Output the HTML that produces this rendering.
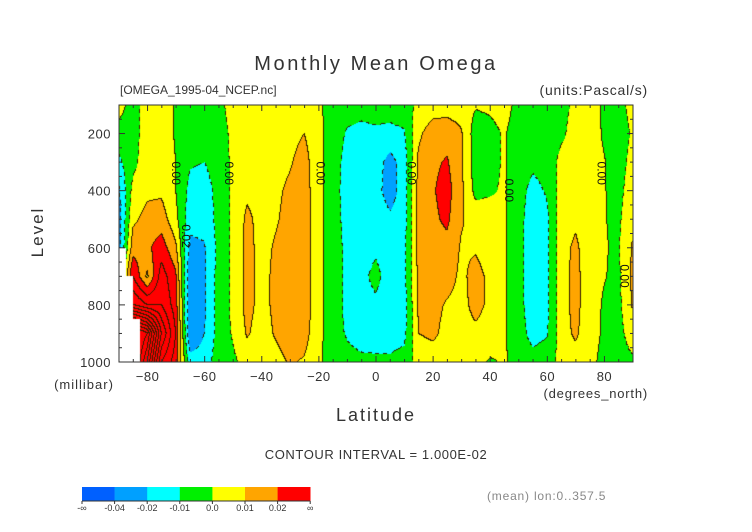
<!DOCTYPE html>
<html><head><meta charset="utf-8">
<style>
body{margin:0;background:#fff;}
#root{position:relative;width:752px;height:532px;overflow:hidden;background:#fff;font-family:"Liberation Sans",sans-serif;}
canvas{position:absolute;left:119px;top:105px;}
svg{position:absolute;left:0;top:0;}
</style></head>
<body>
<div id="root">
<canvas id="cv" width="514" height="257"></canvas>
<svg id="sv" width="752" height="532">
<text x="376" y="70" text-anchor="middle" font-size="20" fill="#333" letter-spacing="2.6">Monthly Mean Omega</text>
<text x="120" y="94" font-size="12" fill="#333">[OMEGA_1995-04_NCEP.nc]</text>
<text x="648" y="95" text-anchor="end" font-size="14" fill="#333" letter-spacing="0.8">(units:Pascal/s)</text>
<text transform="translate(43,232) rotate(-90)" text-anchor="middle" font-size="17" fill="#333" letter-spacing="2">Level</text>
<text x="84" y="389" text-anchor="middle" font-size="13" fill="#333" letter-spacing="1">(millibar)</text>
<text x="376" y="421" text-anchor="middle" font-size="18" fill="#333" letter-spacing="2">Latitude</text>
<text x="648" y="398" text-anchor="end" font-size="13" fill="#333" letter-spacing="0.8">(degrees_north)</text>
<text x="376" y="459" text-anchor="middle" font-size="13" fill="#333" letter-spacing="0.6">CONTOUR INTERVAL = 1.000E-02</text>
<text x="487" y="500" font-size="12" fill="#888" letter-spacing="0.8">(mean) lon:0..357.5</text>
<g id="axes"></g>
<g id="clabels"></g>
<g id="cbar"></g>
</svg>
</div>
<script>
// units: 0.01 Pa/s
const lats = [-90,-85,-80,-75,-70,-65,-60,-55,-50,-45,-40,-35,-30,-25,-20,-15,-10,-5,0,5,10,15,20,25,30,35,40,45,50,55,60,65,70,75,80,85,90];
const levels = [100,200,300,400,500,600,700,800,900,1000];
const omega = [
[0.5,-0.5,-1.2,-2.2,-2.5,-2.5,-2,-2,-2,-2],
[-0.5,-0.5,-0.3,0.3,0.8,1.5,3,5,14,14],
[0.5,0.6,0.6,0.8,1.3,1.8,0.8,4,12,10],
[0.5,0.6,0.6,0.8,1.5,2.5,3.5,4,6,4],
[-0.1,-0.1,0,0,0.3,1.2,2.2,2.5,3,2.5],
[-0.5,-0.7,-0.9,-1.3,-1.6,-2.3,-3,-3,-3,-1.5],
[-0.4,-0.6,-1.0,-1.4,-1.6,-2.1,-2.2,-2.2,-2,-1.5],
[-0.3,-0.4,-0.6,-0.7,-0.7,-0.7,-0.6,-0.6,-0.6,-0.5],
[0.4,0.2,0.2,0.2,0.2,0.2,0.2,0.2,0.1,-0.2],
[0.5,0.5,0.6,0.8,1.2,1.3,1.3,1.3,1.1,0.4],
[0.5,0.5,0.6,0.6,0.7,0.7,0.7,0.7,0.6,0.3],
[0.5,0.5,0.6,0.8,0.9,1.1,1.2,1.2,1.1,0.7],
[0.6,0.7,0.9,1.2,1.3,1.5,1.6,1.6,1.5,1.1],
[0.6,1.0,1.4,1.5,1.5,1.6,1.6,1.6,1.4,0.9],
[0.2,0.3,0.3,0.3,0.3,0.3,0.3,0.3,0.3,0.2],
[-0.5,-0.5,-0.6,-0.6,-0.6,-0.6,-0.6,-0.6,-0.6,-0.5],
[-0.6,-1.1,-1.3,-1.4,-1.3,-1.2,-1.2,-1.2,-1.1,-0.7],
[-0.6,-1.3,-1.6,-1.6,-1.5,-1.4,-1.3,-1.4,-1.4,-0.8],
[-0.5,-1.2,-1.5,-1.6,-1.4,-1.2,-0.7,-1.2,-1.5,-0.8],
[-0.5,-1.3,-2.4,-2.5,-1.8,-1.5,-1.5,-1.5,-1.5,-0.8],
[-0.4,-1.1,-1.5,-1.5,-1.4,-1.3,-1.3,-1.4,-1.3,-0.6],
[0.2,0.8,1.2,1.3,1.3,1.3,1.2,1.1,1.0,0.4],
[0.5,1.5,1.8,1.9,1.8,1.6,1.5,1.3,1.2,0.5],
[0.5,1.6,2.1,2.4,2.2,1.7,1.4,0.9,0.7,0.4],
[0.5,1.1,1.2,1.2,1.1,0.9,0.8,0.7,0.6,0.4],
[0.1,-0.5,-0.5,-0.3,0.6,0.9,1.3,1.3,0.8,0.3],
[0.2,-0.3,-0.3,-0.1,0.4,0.6,0.8,0.8,0.6,-0.1],
[0.4,0.1,0.1,0.1,0.1,0.1,0.1,0.1,0.1,0.1],
[-0.3,-0.5,-0.5,-0.6,-0.6,-0.6,-0.6,-0.6,-0.5,-0.3],
[-0.5,-0.7,-0.8,-1.3,-1.6,-1.6,-1.6,-1.6,-1.4,-0.6],
[-0.5,-0.5,-0.6,-0.9,-1.2,-1.2,-1.2,-1.2,-1.1,-0.4],
[-0.3,-0.2,0.3,0.4,0.5,0.6,0.6,0.6,0.5,0.3],
[0.2,0.4,0.5,0.6,0.8,1.2,1.3,1.3,1.2,0.5],
[0.3,0.4,0.4,0.4,0.4,0.4,0.4,0.4,0.3,0.2],
[-0.1,-0.1,0.05,0.05,0.05,0.05,0.05,-0.1,-0.1,-0.2],
[-0.3,-0.4,-0.4,-0.3,-0.2,-0.1,-0.2,-0.3,-0.4,-0.5],
[0.3,0.1,0.3,0.5,0.8,1.1,1.2,1.1,0.6,-0.2]
];
const missingLats = [-90,-87.5,-85];
const missingFromLevel = [600,700,850];
const bandEdges = [-4,-2,-1,0,1,2];
const bandLabels = ["-\u221e","-0.04","-0.02","-0.01","0.0","0.01","0.02","\u221e"];
const bandColors = [[0,96,255],[0,160,255],[0,255,255],[0,240,0],[255,255,0],[255,165,0],[255,0,0]];
const xTicks = [-80,-60,-40,-20,0,20,40,60,80];
const yTicks = [200,400,600,800,1000];
const contourLabels = [["0.00",-70,340],["0.00",-51.5,340],["0.00",-19.5,340],["0.02",-66.5,560],["0.00",12.5,340],["0.00",46.5,400],["0.00",79,340],["0.00",87,700]];

const PX=119, PY=105, PW=514, PH=257;
const xs = lat => PX + (lat+90)/180*PW;
const ys = lev => PY + (lev-100)/900*PH;
const NS="http://www.w3.org/2000/svg";
function mk(tag, attrs, parent){const e=document.createElementNS(NS,tag);for(const k in attrs)e.setAttribute(k,attrs[k]);parent.appendChild(e);return e;}

function field(lat, lev){
  let i=(lat-lats[0])/5; i=Math.max(0,Math.min(lats.length-1.0001,i));
  let j=(lev-levels[0])/100; j=Math.max(0,Math.min(levels.length-1.0001,j));
  const i0=Math.floor(i), j0=Math.floor(j), fi=i-i0, fj=j-j0;
  const a=omega[i0][j0], b=omega[i0+1][j0], c=omega[i0][j0+1], d=omega[i0+1][j0+1];
  return a*(1-fi)*(1-fj)+b*fi*(1-fj)+c*(1-fi)*fj+d*fi*fj;
}
function missing(lat, lev){
  for(let k=0;k<missingLats.length;k++){
    if(lat>=missingLats[k] && lat<missingLats[k]+2.5 && lev>=missingFromLevel[k]) return true;
  }
  return false;
}
function band(v){let b=0;for(const e of bandEdges){if(v>=e)b++;}return b;}

const cv=document.getElementById('cv'), ctx=cv.getContext('2d');
const img=ctx.createImageData(PW,PH);
const V=new Float32Array(PW*PH), M=new Uint8Array(PW*PH);
for(let y=0;y<PH;y++)for(let x=0;x<PW;x++){
  const lat=-90+(x+0.5)/PW*180, lev=100+(y+0.5)/PH*900;
  V[y*PW+x]=field(lat,lev); M[y*PW+x]=missing(lat,lev)?1:0;
}
for(let y=0;y<PH;y++)for(let x=0;x<PW;x++){
  const k=y*PW+x, o=k*4;
  if(M[k]){img.data[o]=255;img.data[o+1]=255;img.data[o+2]=255;img.data[o+3]=255;continue;}
  const v=V[k]; let c=bandColors[band(v)];
  const f=Math.floor(v);
  let line=false;
  if(x+1<PW && !M[k+1] && Math.floor(V[k+1])!==f) line=true;
  if(y+1<PH && !M[k+PW] && Math.floor(V[k+PW])!==f) line=true;
  if(line && v<0 && ((x+y)>>2)%2===1) line=false;
  if(line){ c=[50,30,0]; }
  img.data[o]=c[0];img.data[o+1]=c[1];img.data[o+2]=c[2];img.data[o+3]=255;
}
ctx.putImageData(img,0,0);

// axes
const ax=document.getElementById('axes');
const frame=mk('rect',{x:PX,y:PY,width:PW,height:PH,fill:'none',stroke:'#333','stroke-width':1},ax);


for(let lat=-90;lat<=90;lat+=5){
  const major=lat%20===0, len=major?6:3, x=xs(lat);
  mk('line',{x1:x,y1:PY+PH,x2:x,y2:PY+PH-len,stroke:'#333'},ax);
  mk('line',{x1:x,y1:PY,x2:x,y2:PY+len,stroke:'#333'},ax);
}
for(let lev=100;lev<=1000;lev+=50){
  const major=lev%200===0, len=major?6:3, y=ys(lev);
  mk('line',{x1:PX,y1:y,x2:PX+len,y2:y,stroke:'#333'},ax);
  mk('line',{x1:PX+PW,y1:y,x2:PX+PW-len,y2:y,stroke:'#333'},ax);
}
xTicks.forEach(t=>{
  const e=mk('text',{x:xs(t),y:381,'text-anchor':'middle','font-size':13,fill:'#333','letter-spacing':'0.5'},ax);
  e.textContent=(t<0?'\u2212'+(-t):String(t));
  
  
});
yTicks.forEach(t=>{
  const e=mk('text',{x:111,y:ys(t)+5,'text-anchor':'end','font-size':13,fill:'#333','letter-spacing':'0.5'},ax);
  e.textContent=String(t);
  
  
});
// contour labels
const cl=document.getElementById('clabels');
contourLabels.forEach(l=>{
  const e=mk('text',{transform:`translate(${xs(l[1])-4},${ys(l[2])-12}) rotate(90)`,'font-size':12,fill:'#111'},cl);
  e.textContent=l[0];
  
  
});
// colorbar
const cb=document.getElementById('cbar');
const CX=82, CW=32.6, CY=487, CH=14;
bandColors.forEach((c,i)=>{
  const r=mk('rect',{x:CX+i*CW,y:CY,width:CW+0.3,height:CH,fill:`rgb(${c[0]},${c[1]},${c[2]})`},cb);
  
  
});
mk('line',{x1:CX,y1:CY+CH,x2:CX+7*CW,y2:CY+CH,stroke:'#333'},cb);
bandLabels.forEach((s,i)=>{
  mk('line',{x1:CX+i*CW,y1:CY+CH,x2:CX+i*CW,y2:CY+CH+3,stroke:'#333'},cb);
  const e=mk('text',{x:CX+i*CW,y:CY+CH+10,'text-anchor':'middle','font-size':9,fill:'#333'},cb);
  e.textContent=s;
  
  
});
</script>
</body></html>
